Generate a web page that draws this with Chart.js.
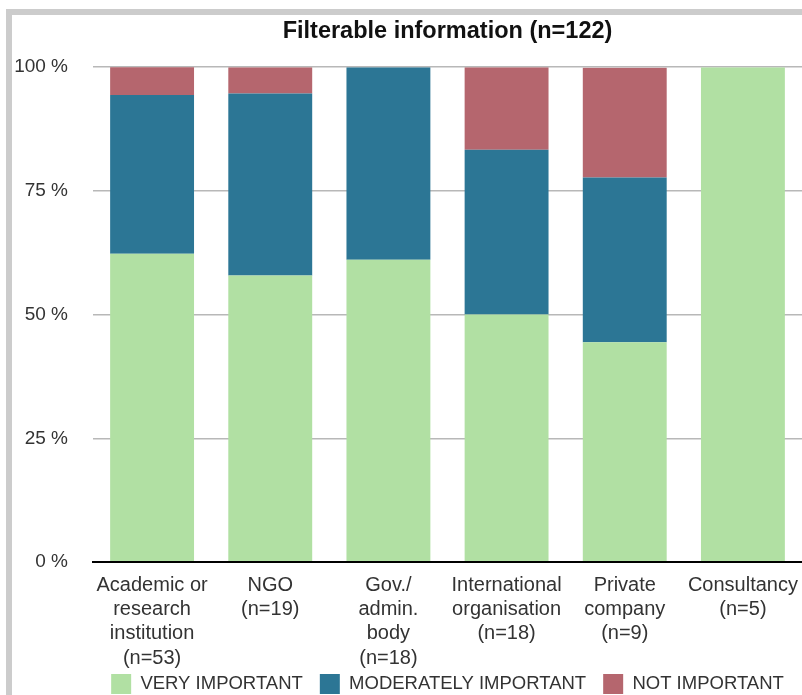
<!DOCTYPE html>
<html>
<head>
<meta charset="utf-8">
<script src="https://cdn.jsdelivr.net/npm/chart.js@4/dist/chart.umd.min.js"></script>
<style>
  html, body { margin: 0; padding: 0; background: #fff; overflow: hidden; }
  #frame {
    position: absolute; left: 6px; top: 9px; width: 820px; height: 720px;
    border-left: 6px solid #cccccc; border-top: 6px solid #cccccc;
  }
  #projectsChart { position: absolute; left: 0; top: 0; }
</style>
</head>
<body>
<div id="frame"></div>
<canvas id="projectsChart" width="802" height="704"></canvas>
<script>
// categories (multi-line labels)
const categories = [
  ['Academic or', 'research', 'institution', '(n=53)'],
  ['NGO', '(n=19)'],
  ['Gov./', 'admin.', 'body', '(n=18)'],
  ['International', 'organisation', '(n=18)'],
  ['Private', 'company', '(n=9)'],
  ['Consultancy', '(n=5)']
];

// share of respondents, %
const veryImportant = [62.3, 57.9, 61.1, 50.0, 44.4, 100];
const moderatelyImportant = [32.1, 36.8, 38.9, 33.3, 33.3, 0];
const notImportant = [5.7, 5.3, 0, 16.7, 22.2, 0];

const yTicks = [0, 25, 50, 75, 100];

document.addEventListener('DOMContentLoaded', function() {
    const ctx = document.getElementById('projectsChart').getContext('2d');
    new Chart(ctx, {
        type: 'bar',
        data: {
            labels: categories,
            datasets: [{
                label: 'VERY IMPORTANT',
                data: veryImportant,
                backgroundColor: '#b1e0a3',
                borderWidth: 0
            }, {
                label: 'MODERATELY IMPORTANT',
                data: moderatelyImportant,
                backgroundColor: '#2c7695',
                borderWidth: 0
            }, {
                label: 'NOT IMPORTANT',
                data: notImportant,
                backgroundColor: '#b5666e',
                borderWidth: 0
            }]
        },
        options: {
            responsive: false,
            animation: false,
            categoryPercentage: 1,
            barPercentage: 0.71,
            layout: { padding: { left: 14, right: 0, top: 0, bottom: 0 } },
            plugins: {
                title: {
                    display: true,
                    text: 'Filterable information (n=122)',
                    fullSize: false,
                    color: '#111',
                    font: { family: 'Liberation Sans', size: 23.5, weight: 'bold', lineHeight: 1.2 },
                    padding: { top: 17, bottom: 22 }
                },
                legend: {
                    position: 'bottom',
                    fullSize: false,
                    labels: {
                        color: '#333',
                        font: { family: 'Liberation Sans', size: 18.5 },
                        boxWidth: 20,
                        boxHeight: 20,
                        padding: 17
                    }
                },
                tooltip: { enabled: false }
            },
            scales: {
                x: {
                    stacked: true,
                    grid: { display: false },
                    border: { display: true, color: '#000', width: 2 },
                    ticks: {
                        color: '#333',
                        font: { family: 'Liberation Sans', size: 20, lineHeight: 1.215 },
                        padding: 3,
                        maxRotation: 0,
                        autoSkip: false
                    },
                    afterFit: function(scale) {
                        // labels run down next to the legend, as in the original
                        scale.height = 95;
                        scale.paddingLeft = 0;
                        scale.paddingRight = 0;
                        scale._computeLabelArea = () => undefined;
                    }
                },
                y: {
                    stacked: true,
                    min: 0,
                    max: 100,
                    border: { display: false },
                    grid: {
                        drawTicks: false,
                        color: c => c.tick && c.tick.value === 0 ? '#000' : '#b8b8b8',
                        lineWidth: c => c.tick && c.tick.value === 0 ? 2 : 1.5
                    },
                    afterBuildTicks: function(scale) {
                        scale.ticks = yTicks.map(v => ({ value: v }));
                    },
                    afterFit: function(scale) { scale.width = 79; },
                    ticks: {
                        color: '#333',
                        font: { family: 'Liberation Sans', size: 19 },
                        padding: 25,
                        callback: v => v + ' %'
                    }
                }
            }
        }
    });
});
</script>
</body>
</html>
